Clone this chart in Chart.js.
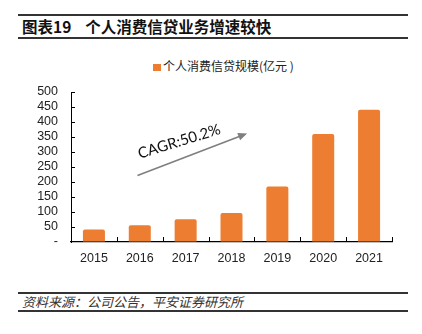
<!DOCTYPE html>
<html>
<head>
<meta charset="utf-8">
<script src="https://cdn.jsdelivr.net/npm/chart.js@4"></script>
<style>
  body { margin: 0; width: 422px; height: 334px; background: #fff; position: relative; overflow: hidden; }
  .rule { position: absolute; left: 18px; width: 390px; height: 1.5px; background: #333; }
  #title { position: absolute; left: 22px; top: 16px; font: bold 15.5px "Noto Sans CJK SC", sans-serif; color: #111; white-space: pre; line-height: 20px; }
  #legend { position: absolute; left: 153px; top: 57px; font: 12px "Noto Sans CJK SC", sans-serif; color: #222; line-height: 17px; white-space: pre; }
  #legend i { display: inline-block; width: 8px; height: 7px; margin-right: 2px; }
  #source { position: absolute; left: 22px; top: 293px; font: italic 13px "Noto Sans CJK SC", sans-serif; color: #333; line-height: 17px; }
  #wrap { position: absolute; left: 0; top: 40px; width: 422px; height: 240px; }
</style>
</head>
<body>
<div class="rule" style="top:14px"></div>
<div id="title"></div>
<div class="rule" style="top:37px"></div>
<div id="legend"></div>
<div id="wrap"><canvas id="c"></canvas></div>
<div class="rule" style="top:292px"></div>
<div id="source"></div>
<div class="rule" style="top:310px"></div>
<script>
const titleNo = "图表19"
const titleText = "个人消费信贷业务增速较快"
const sourceText = "资料来源：公司公告，平安证券研究所"
const seriesLabel = "个人消费信贷规模(亿元 )"
const cagrLabel = "CAGR:50.2%"

const years = ["2015", "2016", "2017", "2018", "2019", "2020", "2021"]
const loans = [42, 56, 76, 97, 185, 360, 441]
const yMax = 500
const yStep = 50

const barColor = "#ED7D31"

document.getElementById("title").innerHTML = `${titleNo}    ${titleText}`
document.getElementById("source").textContent = sourceText
document.getElementById("legend").innerHTML = `<i style="background:${barColor}"></i>${seriesLabel}`

// inward tick marks + CAGR arrow, all placed through the scales
const extras = {
  id: "extras",
  afterDraw(chart) {
    const { ctx, scales: { x, y } } = chart
    ctx.save()
    ctx.strokeStyle = "#000"
    ctx.lineWidth = 1
    y.ticks.forEach(t => {
      if (t.value === 0) return
      const py = Math.round(y.getPixelForValue(t.value)) + 0.5
      ctx.beginPath()
      ctx.moveTo(x.left, py)
      ctx.lineTo(x.left + 4, py)
      ctx.stroke()
    })
    const n = years.length
    for (let i = 1; i <= n; i++) {
      const px = Math.round(x.left + (x.right - x.left) * i / n) + 0.5
      ctx.beginPath()
      ctx.moveTo(px, y.bottom)
      ctx.lineTo(px, y.bottom - 5)
      ctx.stroke()
    }

    // arrow
    const x0 = x.getPixelForValue(0.95), y0 = y.getPixelForValue(222)
    const x1 = x.getPixelForValue(3.34), y1 = y.getPixelForValue(362)
    const ang = Math.atan2(y1 - y0, x1 - x0)
    ctx.strokeStyle = "#7f7f7f"
    ctx.fillStyle = "#7f7f7f"
    ctx.lineWidth = 1.6
    ctx.beginPath()
    ctx.moveTo(x0, y0)
    ctx.lineTo(x1 - 7 * Math.cos(ang), y1 - 7 * Math.sin(ang))
    ctx.stroke()
    ctx.beginPath()
    ctx.moveTo(x1, y1)
    ctx.lineTo(x1 - 9 * Math.cos(ang) + 4 * Math.sin(ang), y1 - 9 * Math.sin(ang) - 4 * Math.cos(ang))
    ctx.lineTo(x1 - 9 * Math.cos(ang) - 4 * Math.sin(ang), y1 - 9 * Math.sin(ang) + 4 * Math.cos(ang))
    ctx.closePath()
    ctx.fill()

    // label
    const tx = x.getPixelForValue(1.86), ty = y.getPixelForValue(335)
    ctx.translate(tx, ty)
    ctx.rotate(-17 * Math.PI / 180)
    ctx.fillStyle = "#111"
    ctx.font = "15px Lato, sans-serif"
    ctx.textAlign = "center"
    ctx.textBaseline = "middle"
    ctx.fillText(cagrLabel, 0, 0)
    ctx.restore()
  }
}

new Chart(document.getElementById("c"), {
  type: "bar",
  data: {
    labels: years,
    datasets: [{
      label: seriesLabel,
      data: loans,
      backgroundColor: barColor,
      borderRadius: 2,
      barPercentage: 0.48,
      categoryPercentage: 1
    }]
  },
  options: {
    responsive: true,
    maintainAspectRatio: false,
    animation: false,
    layout: { padding: { left: 0, right: 30, top: 52, bottom: 0 } },
    plugins: {
      legend: { display: false },
      tooltip: { enabled: false }
    },
    scales: {
      x: {
        grid: { display: true, drawOnChartArea: false, drawTicks: false },
        border: { display: true, color: "#000", width: 1.3 },
        ticks: { color: "#222", font: { family: "Liberation Sans", size: 12.5 }, padding: 9 },
        afterFit: s => { s.height = 38 }
      },
      y: {
        min: 0,
        max: yMax,
        grid: { display: true, drawOnChartArea: false, drawTicks: false },
        border: { display: true, color: "#000", width: 1 },
        ticks: {
          stepSize: yStep,
          autoSkip: false,
          color: "#222",
          font: { family: "Liberation Sans", size: 12.5, lineHeight: 1 },
          padding: 13,
          callback: v => v === 0 ? "-" : v
        },
        afterFit: s => { s.width = 71 }
      }
    }
  },
  plugins: [extras]
})
</script>
</body>
</html>
